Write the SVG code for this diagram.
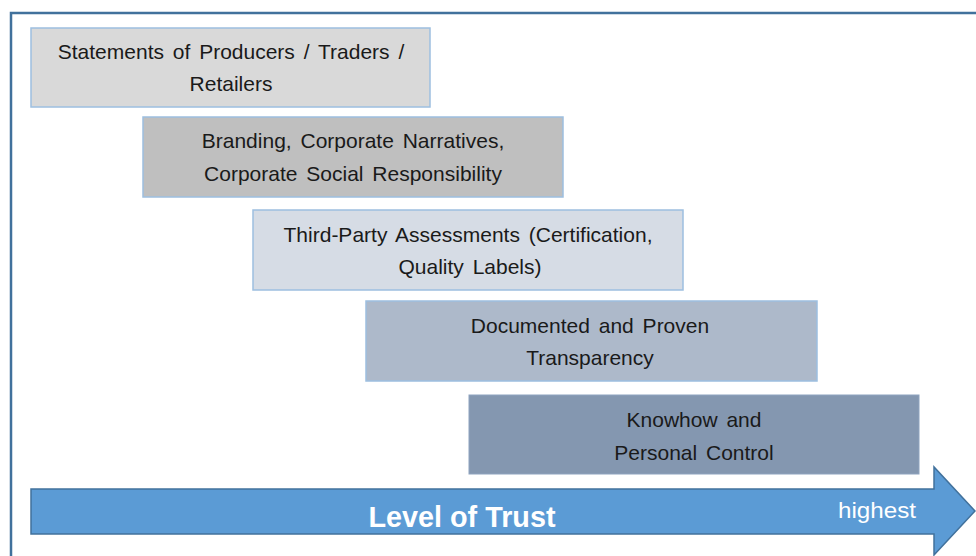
<svg xmlns="http://www.w3.org/2000/svg" width="976" height="556" viewBox="0 0 976 556">
<style>
.box{stroke:#9dbfe0;stroke-width:1.5}
.t{font-family:"Liberation Sans",Arial,sans-serif;font-size:21px;fill:#1a1a1a;text-anchor:middle;word-spacing:3px}
</style>
<rect width="976" height="556" fill="#ffffff"/>
<g id="frame">
<path d="M11 556 V13 H976" fill="none" stroke="#41719c" stroke-width="2.5"/>
</g>
<g id="n1"><rect class="box" x="31" y="28" width="399" height="79" fill="#d9d9d9"/>
<text class="t" x="231" y="59">Statements of Producers / Traders /</text>
<text class="t" x="231" y="91">Retailers</text></g>
<g id="n2"><rect class="box" x="143" y="117" width="420" height="80" fill="#bfbfbf"/>
<text class="t" x="353" y="148">Branding, Corporate Narratives,</text>
<text class="t" x="353" y="181">Corporate Social Responsibility</text></g>
<g id="n3"><rect class="box" x="253" y="210" width="430" height="80" fill="#d6dce5"/>
<text class="t" x="468" y="242">Third-Party Assessments (Certification,</text>
<text class="t" x="470" y="274">Quality Labels)</text></g>
<g id="n4"><rect class="box" x="366" y="301" width="451" height="80" fill="#adb9ca"/>
<text class="t" x="590" y="333">Documented and Proven</text>
<text class="t" x="590" y="365">Transparency</text></g>
<g id="n5"><rect x="469" y="395" width="450" height="79" fill="#8497b0" stroke="#8ea3bf" stroke-width="1"/>
<text class="t" x="694" y="427">Knowhow and</text>
<text class="t" x="694" y="460">Personal Control</text></g>
<g id="connectors">
<path d="M31 489 H934 V467 L975 511 L934 555 V534 H31 Z" fill="#5b9bd5" stroke="#41719c" stroke-width="1.5"/>
<text x="462" y="527" font-family="Liberation Sans,Arial,sans-serif" font-size="29" font-weight="bold" fill="#ffffff" text-anchor="middle" textLength="187" lengthAdjust="spacingAndGlyphs">Level of Trust</text>
<text x="877" y="518" font-family="Liberation Sans,Arial,sans-serif" font-size="22" fill="#ffffff" text-anchor="middle" textLength="78" lengthAdjust="spacingAndGlyphs">highest</text>
</g>
</svg>
